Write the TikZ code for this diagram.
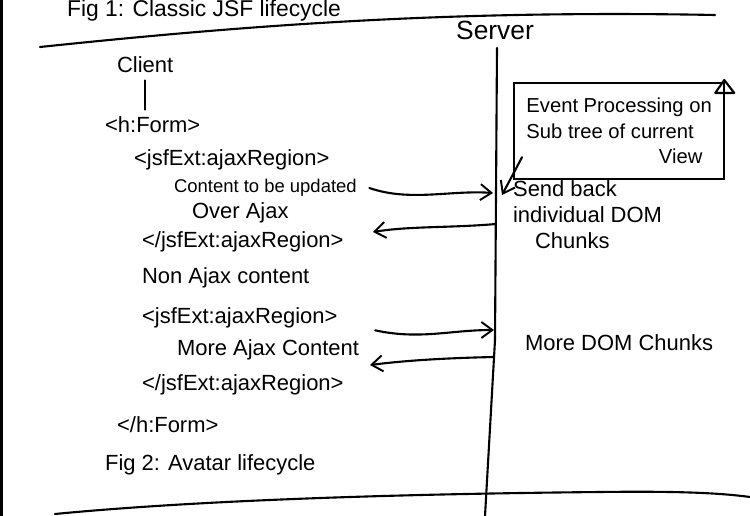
\documentclass[tikz,border=0pt]{standalone}
\usepackage{fontspec}
\setmainfont{Liberation Sans}
\usetikzlibrary{arrows.meta}

\begin{document}
\begin{tikzpicture}[x=0.02cm, y=-0.02cm, every node/.style={font=\fontsize{12.5}{15}\selectfont, inner sep=1pt},
	sketch/.style={line width=1.2pt, line cap=round, line join=round},
	msg/.style={sketch, -{Straight Barb[length=2.2mm, width=3.2mm, line width=1.1pt]}}]
	\useasboundingbox (0,0) rectangle (750,516);
	\draw[line width=2pt] (1,0) -- (1,516);
	\node[anchor=base west, font=\fontsize{13}{15}\selectfont] (figOne) at (65,17) {Fig 1: Classic JSF lifecycle};
	\draw[sketch] (40,47) .. controls (250,25) and (450,10) .. (715,15);
	\draw[sketch] (55,514) .. controls (200,500) and (400,494) .. (600,492) .. controls (680,491) and (720,493) .. (750,497);
	% client side
	\foreach \n/\x/\y/\t in {client/115/65/Client, form/103/125/{<h:Form>}, regionA/132/160/{<jsfExt:ajaxRegion>}, overAjax/190/213/Over Ajax, endRegionA/140/242/{</jsfExt:ajaxRegion>}, nonAjax/140/278/Non Ajax content, regionB/140/318/{<jsfExt:ajaxRegion>}, moreAjax/175/350/More Ajax Content, endRegionB/140/385/{</jsfExt:ajaxRegion>}, endForm/115/425/{</h:Form>}, figTwo/103/465/{Fig 2: Avatar lifecycle}} {
		\node[anchor=west] (\n) at (\x,\y) {\t};
	}
	\node[anchor=west, font=\fontsize{10.5}{13}\selectfont] (contentA) at (172,188) {Content to be updated};
	\draw[sketch, shorten <=3pt, shorten >=3pt] (client.south) -- (client.south |- form.north);
	% server side
	\node[font=\fontsize{15}{17}\selectfont] (server) at (495,30) {Server};
	\coordinate (serverTop) at (497,48);
	\coordinate (serverEnd) at (485,516);
	\draw[sketch] (serverTop) -- (495,340) -- (serverEnd);
	\node[draw, line width=1.3pt, anchor=north west, align=left, minimum width=4.2cm, minimum height=1.92cm, inner sep=4pt, font=\fontsize{11.5}{14.5}\selectfont] (eventBox) at (513,82) {Event Processing on\\Sub tree of current\\\hphantom{Sub tree of cur}View};
	\draw[sketch] (eventBox.north east) ++(-10,11) -- ++(9,-13) -- ++(10,13) -- cycle;
	\node[anchor=north west, align=left] (sendBack) at (511,178) {Send back\\individual DOM\\\hspace{1em}Chunks};
	\node[anchor=west] (moreChunks) at (523,343) {More DOM Chunks};
	\coordinate (toSend) at (502,195);
	\draw[msg] ([shift={(9,-23)}]eventBox.south west) -- (toSend);
	% requests and replies
	\coordinate (in1) at (493,193);
	\coordinate (out1) at (496,224);
	\coordinate (back1) at (373,232);
	\coordinate (in2) at (494,330);
	\coordinate (out2) at (494,357);
	\coordinate (back2) at (370,365);
	\draw[msg] ([xshift=6pt]contentA.east) .. controls (410,202) and (450,190) .. (in1);
	\draw[msg] (out1) .. controls (450,228) and (410,226) .. (back1);
	\draw[msg] ([xshift=8pt]moreAjax.east |- regionB.south) .. controls (420,340) and (450,330) .. (in2);
	\draw[msg] (out2) .. controls (450,358) and (410,360) .. (back2);
\end{tikzpicture}
\end{document}
